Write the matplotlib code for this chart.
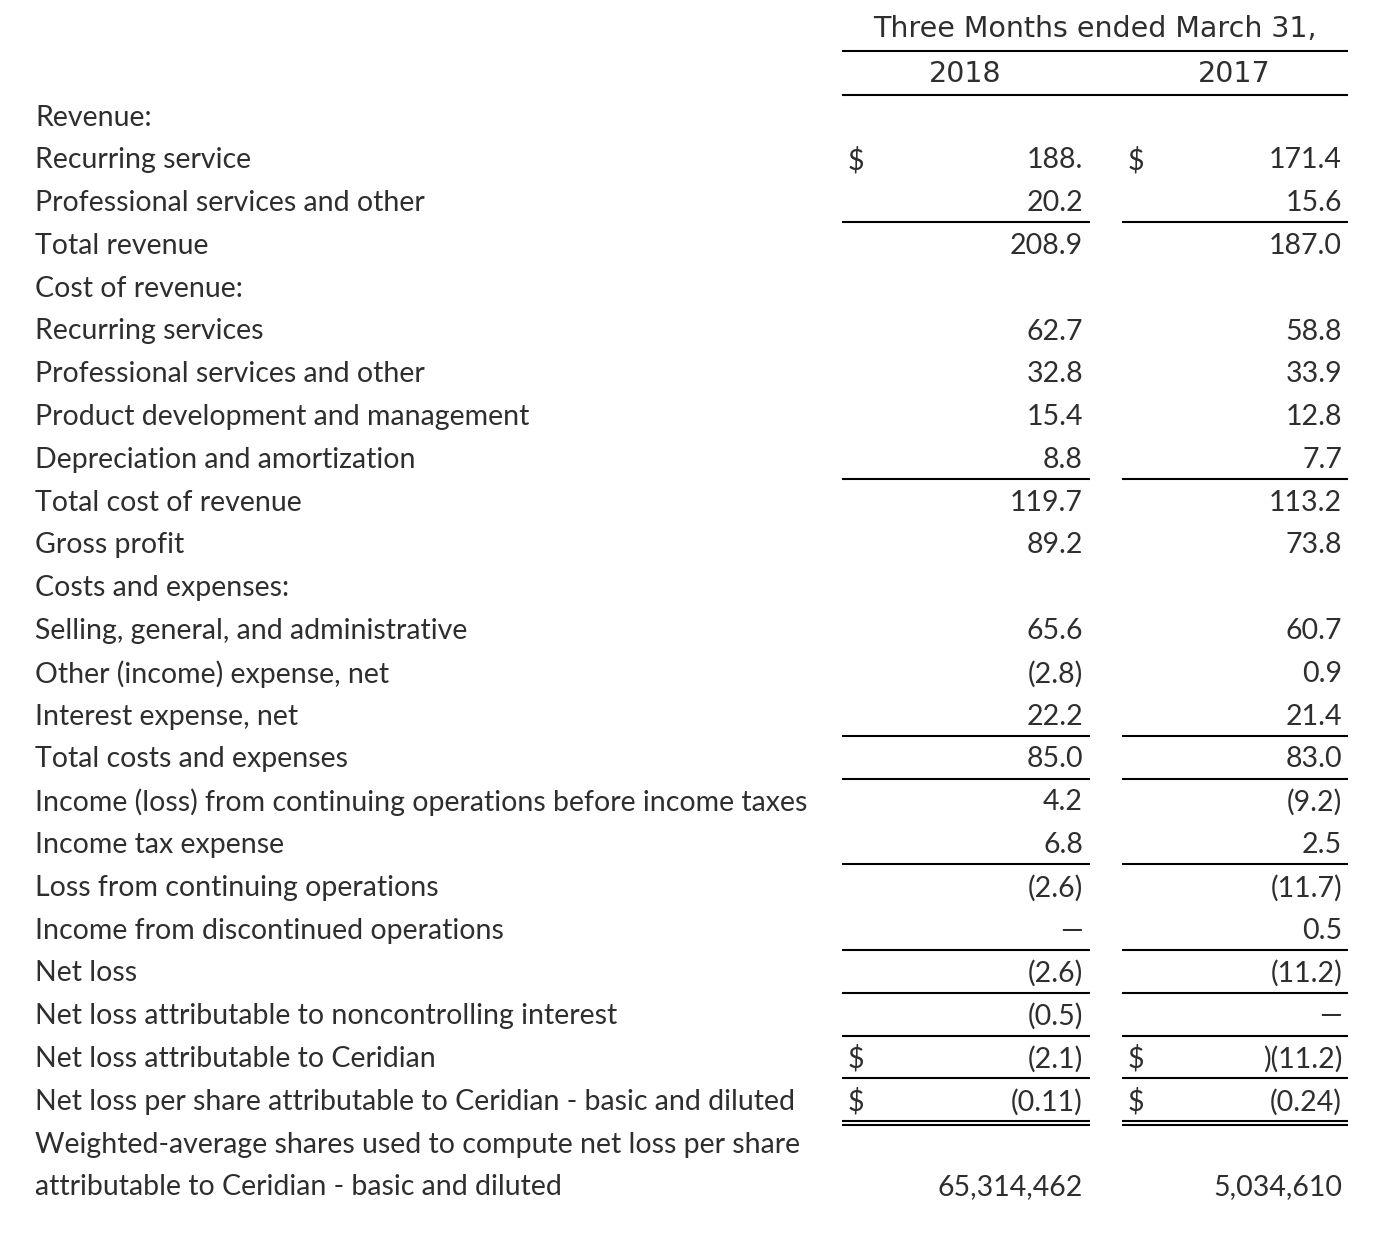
import matplotlib
matplotlib.use("Agg")
import matplotlib.pyplot as plt

# statement rows (in $ millions, except per-share / share counts)
labels = [
    "Revenue:",
    "Recurring service",
    "Professional services and other",
    "Total revenue",
    "Cost of revenue:",
    "Recurring services",
    "Professional services and other",
    "Product development and management",
    "Depreciation and amortization",
    "Total cost of revenue",
    "Gross profit",
    "Costs and expenses:",
    "Selling, general, and administrative",
    "Other (income) expense, net",
    "Interest expense, net",
    "Total costs and expenses",
    "Income (loss) from continuing operations before income taxes",
    "Income tax expense",
    "Loss from continuing operations",
    "Income from discontinued operations",
    "Net loss",
    "Net loss attributable to noncontrolling interest",
    "Net loss attributable to Ceridian",
    "Net loss per share attributable to Ceridian - basic and diluted",
    "Weighted-average shares used to compute net loss per share",
    "attributable to Ceridian - basic and diluted",
]
vals_2018 = ["", "188.", "20.2", "208.9", "", "62.7", "32.8", "15.4", "8.8",
             "119.7", "89.2", "", "65.6", "(2.8)", "22.2", "85.0", "4.2", "6.8",
             "(2.6)", "\u2014", "(2.6)", "(0.5)", "(2.1)", "(0.11)", "", "65,314,462"]
vals_2017 = ["", "171.4", "15.6", "187.0", "", "58.8", "33.9", "12.8", "7.7",
             "113.2", "73.8", "", "60.7", "0.9", "21.4", "83.0", "(9.2)", "2.5",
             "(11.7)", "0.5", "(11.2)", "\u2014", ")(11.2)", "(0.24)", "", "5,034,610"]
dollar_rows = [1, 22, 23]
rule_after = [2, 8, 14, 15, 17, 19, 20, 21, 22]
double_rule_after = [23]

header = "Three Months ended March 31,"
years = ["2018", "2017"]

TEXT = "#2e2e2e"
BODY_FONT = ["Lato", "DejaVu Sans"]
BODY_SIZE = 20.5
HEAD_SIZE = 20.5

fig = plt.figure(figsize=(13.74, 12.42), dpi=100)
ax = fig.add_axes([0, 0, 1, 1])
ax.set_xlim(0, 1374)
# row units: row 0 at ~117 px, 42.8 px per row
ax.set_ylim((1242 - 117.5) / 42.8, -117.5 / 42.8)
ax.axis("off")

col_left = [842, 1122]
col_right = [1090, 1348]
val_x = [1083, 1342]
dollar_x = [848, 1128]

# header
ax.text(1095, -2.07, header, ha="center", va="center", fontsize=HEAD_SIZE,
        color=TEXT, family=["DejaVu Sans"])
ax.plot([842, 1348], [-1.55, -1.55], color="black", lw=1.5, solid_capstyle="butt")
for i, yr in enumerate(years):
    ax.text((col_left[i] + col_right[i]) / 2 - 1, -1.02, yr, ha="center", va="center",
            fontsize=HEAD_SIZE, color=TEXT, family=["DejaVu Sans"])
ax.plot([842, 1348], [-0.52, -0.52], color="black", lw=1.5, solid_capstyle="butt")

for r, lab in enumerate(labels):
    ax.text(35, r, lab, ha="left", va="center", fontsize=BODY_SIZE, color=TEXT,
            family=BODY_FONT)
    for c, vals in enumerate([vals_2018, vals_2017]):
        if vals[r]:
            ax.text(val_x[c], r, vals[r], ha="right", va="center", fontsize=BODY_SIZE,
                    color=TEXT, family=BODY_FONT)
        if r in dollar_rows:
            ax.text(dollar_x[c], r, "$", ha="left", va="center", fontsize=BODY_SIZE,
                    color=TEXT, family=BODY_FONT)

for r in rule_after:
    for c in range(2):
        ax.plot([col_left[c], col_right[c]], [r + 0.45, r + 0.45], color="black",
                lw=1.5, solid_capstyle="butt")
for r in double_rule_after:
    for c in range(2):
        for off in (0.45, 0.55):
            ax.plot([col_left[c], col_right[c]], [r + off, r + off], color="black",
                    lw=1.5, solid_capstyle="butt")

fig.savefig("out.png", dpi=100, facecolor="white")
